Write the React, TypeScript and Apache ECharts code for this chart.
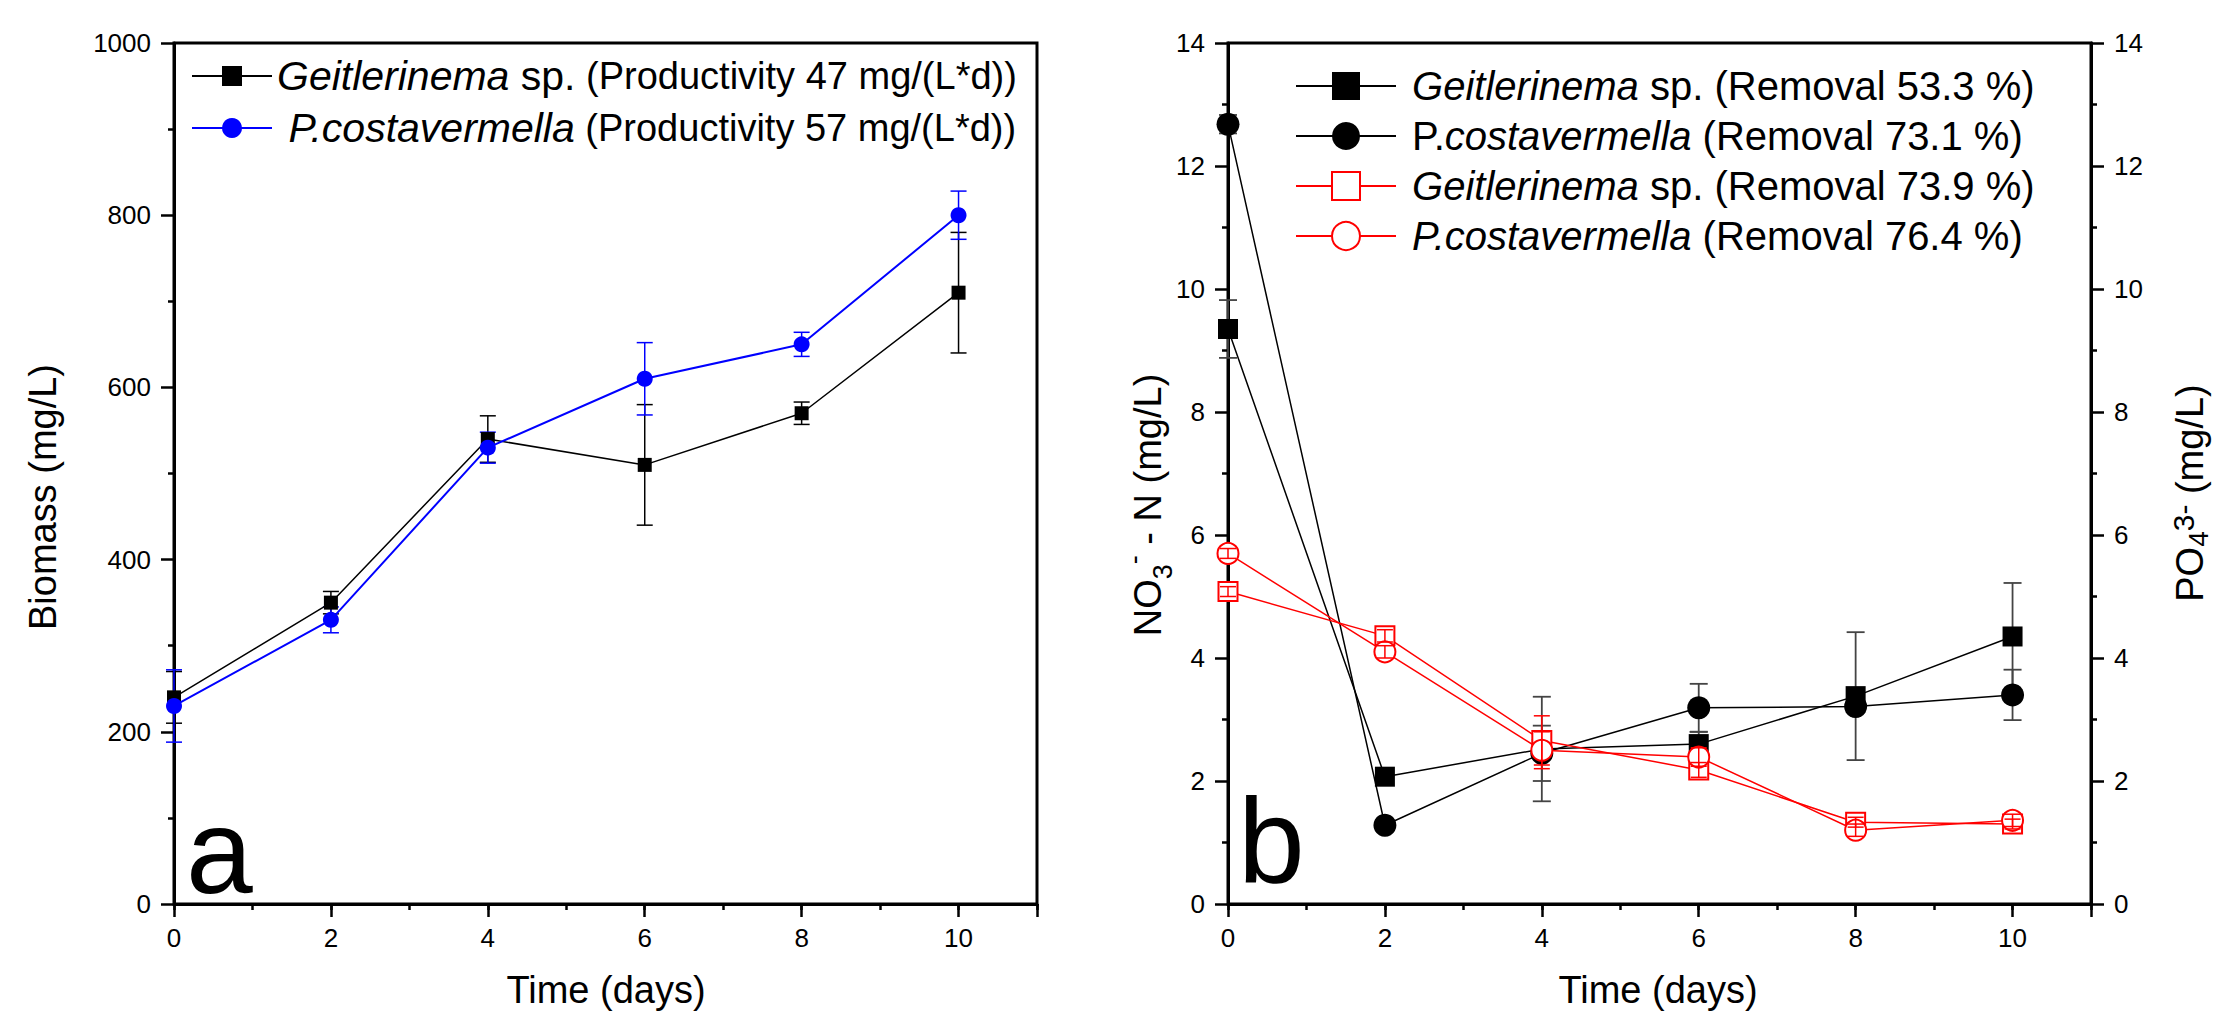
import React, { useEffect, useRef } from "react";
import * as echarts from "echarts";

// ---------- data ----------
const days = [0, 2, 4, 6, 8, 10];
const xTickLabels = ["0", "2", "4", "6", "8", "10"];

const biomassGeit = [240, 350, 540, 510, 570, 710];
const biomassGeitErr = [30, 13, 27, 70, 13, 70];
const biomassPcos = [230, 330, 530, 610, 650, 800];
const biomassPcosErr = [42, 15, 18, 42, 14, 28];

const no3Geit = [9.35, 2.07, 2.52, 2.6, 3.38, 4.35];
const no3GeitErr = [0.47, 0.08, 0.85, 0.2, 1.04, 0.87];
const no3Pcos = [12.68, 1.28, 2.45, 3.19, 3.21, 3.4];
const no3PcosErr = [0.15, 0.08, 0.45, 0.39, 0.1, 0.41];

const po4Geit = [5.08, 4.36, 2.66, 2.18, 1.33, 1.3];
const po4GeitErr = [0.08, 0.1, 0.4, 0.12, 0.08, 0.08];
const po4Pcos = [5.7, 4.1, 2.5, 2.39, 1.2, 1.36];
const po4PcosErr = [0.08, 0.1, 0.3, 0.15, 0.1, 0.1];

const legendA: Record<string, string> = {
  a1: "{gi|Geitlerinema}{g| sp.}{p| (Productivity 47 mg/(L*d))}",
  a2: "{gi| P.costavermella}{p| (Productivity 57 mg/(L*d))}",
};
const legendB: Record<string, string> = {
  b1: "{n| }{i|Geitlerinema}{n| sp. (Removal 53.3 %)}",
  b2: "{n| P.}{i|costavermella}{n| (Removal 73.1 %)}",
  b3: "{n| }{i|Geitlerinema}{n| sp. (Removal 73.9 %)}",
  b4: "{n| }{i|P.costavermella}{n| (Removal 76.4 %)}",
};

const FONT = '"Liberation Sans", Arial, Helvetica, sans-serif';

const pts = (vals: number[]) => days.map((d, i) => [d, vals[i]]);
const errs = (vals: number[], e: number[]) =>
  days.map((d, i) => [d, vals[i] - e[i], vals[i] + e[i]]);

function errRender(capW: number, color: string, width: number) {
  return (params: any, api: any) => {
    const x = api.value(0);
    const lo = api.value(1);
    const hi = api.value(2);
    const p1 = api.coord([x, hi]);
    const p2 = api.coord([x, lo]);
    const st = { stroke: color, lineWidth: width };
    return {
      type: "group",
      children: [
        { type: "line", shape: { x1: p1[0], y1: p1[1], x2: p2[0], y2: p2[1] }, style: st },
        { type: "line", shape: { x1: p1[0] - capW / 2, y1: p1[1], x2: p1[0] + capW / 2, y2: p1[1] }, style: st },
        { type: "line", shape: { x1: p2[0] - capW / 2, y1: p2[1], x2: p2[0] + capW / 2, y2: p2[1] }, style: st },
      ],
    };
  };
}

const GRID_TOP = 43;
const GRID_H = 861;
const GRID_W = 863;

function majorX(gridIndex: number) {
  return {
    type: "value",
    gridIndex,
    position: "bottom",
    min: 0,
    max: 11,
    interval: 2,
    axisLine: { show: true, lineStyle: { color: "#000", width: 3 } },
    axisTick: { show: true, inside: false, length: 13, lineStyle: { color: "#000", width: 2.5 } },
    axisLabel: {
      show: true,
      margin: 21,
      fontSize: 26,
      color: "#000",
      fontFamily: FONT,
      formatter: (v: number) => {
        const i = days.indexOf(v);
        return i >= 0 ? xTickLabels[i] : "";
      },
    },
    splitLine: { show: false },
  };
}
function minorX(gridIndex: number) {
  return {
    type: "value",
    gridIndex,
    position: "bottom",
    min: 0,
    max: 11,
    interval: 1,
    axisLine: { show: false },
    axisTick: { show: true, inside: false, length: 6, lineStyle: { color: "#000", width: 2.5 } },
    axisLabel: { show: false },
    splitLine: { show: false },
  };
}
function yAx(gridIndex: number, max: number, interval: number, position: string) {
  return {
    type: "value",
    gridIndex,
    position,
    min: 0,
    max,
    interval,
    axisLine: { show: true, onZero: false, lineStyle: { color: "#000", width: 3 } },
    axisTick: { show: true, inside: false, length: 13, lineStyle: { color: "#000", width: 2.5 } },
    minorTick: { show: true, splitNumber: 2, length: 6, lineStyle: { color: "#000", width: 2.5 } },
    axisLabel: {
      show: true,
      margin: 23,
      fontSize: 26,
      color: "#000",
      fontFamily: FONT,
      formatter: (v: number) => String(v),
    },
    splitLine: { show: false },
    minorSplitLine: { show: false },
  };
}

export default function App() {
  const ref = useRef<HTMLDivElement>(null);
  useEffect(() => {
    if (!ref.current) return;
    const chart = echarts.init(ref.current, null, { renderer: "svg" });
    const richA = {
      gi: { fontSize: 41, fontStyle: "italic", fontFamily: FONT, color: "#000", lineHeight: 44 },
      g: { fontSize: 41, fontFamily: FONT, color: "#000", lineHeight: 44 },
      p: { fontSize: 38, fontFamily: FONT, color: "#000", lineHeight: 44 },
    };
    const richB = {
      i: { fontSize: 40, fontStyle: "italic", fontFamily: FONT, color: "#000", lineHeight: 40 },
      n: { fontSize: 40, fontFamily: FONT, color: "#000", lineHeight: 40 },
    };
    const richNO = {
      m: { fontSize: 38, fontFamily: FONT, color: "#000", lineHeight: 56 },
      sub: { fontSize: 27, fontFamily: FONT, color: "#000", lineHeight: 27, verticalAlign: "bottom" },
      sup: { fontSize: 27, fontFamily: FONT, color: "#000", lineHeight: 27, verticalAlign: "top" },
    };
    const richPO = {
      m: { fontSize: 38, fontFamily: FONT, color: "#ff0000", lineHeight: 44 },
      sub: { fontSize: 28, fontFamily: FONT, color: "#ff0000", lineHeight: 20, verticalAlign: "bottom" },
      sup: { fontSize: 30, fontFamily: FONT, color: "#ff0000", lineHeight: 22, verticalAlign: "top" },
    };

    const option: any = {
      animation: false,
      backgroundColor: "#fff",
      textStyle: { fontFamily: FONT },
      grid: [
        { left: 174, top: GRID_TOP, width: GRID_W, height: GRID_H, show: true, borderColor: "#000", borderWidth: 3, containLabel: false },
        { left: 1228, top: GRID_TOP, width: GRID_W, height: GRID_H, show: true, borderColor: "#000", borderWidth: 3, containLabel: false },
      ],
      xAxis: [majorX(0), minorX(0), majorX(1), minorX(1)],
      yAxis: [yAx(0, 1000, 200, "left"), yAx(1, 14, 2, "left"), yAx(1, 14, 2, "right")],
      legend: [
        {
          data: ["a1", "a2"],
          orient: "vertical",
          left: 191,
          top: 54,
          padding: 0,
          itemWidth: 80,
          itemHeight: 25,
          itemGap: 8,
          selectedMode: false,
          formatter: (n: string) => legendA[n],
          textStyle: { fontSize: 38, lineHeight: 44, color: "#000", fontFamily: FONT, rich: richA },
        },
        {
          data: ["b1", "b2", "b3", "b4"],
          orient: "vertical",
          left: 1295,
          top: 66,
          padding: 0,
          itemWidth: 100,
          itemHeight: 35,
          itemGap: 10,
          selectedMode: false,
          formatter: (n: string) => legendB[n],
          textStyle: { fontSize: 40, lineHeight: 40, color: "#000", fontFamily: FONT, rich: richB },
        },
      ],
      graphic: [
        { type: "text", x: 186, y: 851, style: { text: "a", fontSize: 120, fontFamily: FONT, fill: "#000", align: "left", verticalAlign: "middle" } },
        { type: "text", x: 1238, y: 840, style: { text: "b", fontSize: 120, fontFamily: FONT, fill: "#000", align: "left", verticalAlign: "middle" } },
        { type: "text", x: 43, y: 497, rotation: Math.PI / 2, style: { text: "Biomass (mg/L)", fontSize: 38, fontFamily: FONT, fill: "#000", align: "center", verticalAlign: "middle" } },
        { type: "text", x: 606, y: 990, style: { text: "Time (days)", fontSize: 38, fontFamily: FONT, fill: "#000", align: "center", verticalAlign: "middle" } },
        { type: "text", x: 1658, y: 990, style: { text: "Time (days)", fontSize: 38, fontFamily: FONT, fill: "#000", align: "center", verticalAlign: "middle" } },
        { type: "text", x: 1148, y: 505, rotation: Math.PI / 2, style: { text: "{m|NO}{sub|3}{sup|-}{m| - N (mg/L)}", rich: richNO, align: "center", verticalAlign: "middle" } },
        { type: "text", x: 2190, y: 493, rotation: Math.PI / 2, style: { text: "{m|PO}{sub|4}{sup|3-}{m| (mg/L)}", rich: richPO, align: "center", verticalAlign: "middle" } },
      ],
      series: [
        { type: "custom", name: "ea1", xAxisIndex: 0, yAxisIndex: 0, data: errs(biomassGeit, biomassGeitErr), encode: { x: 0, y: [1, 2] }, renderItem: errRender(16, "#000", 1.5), z: 2, silent: true },
        { type: "custom", name: "ea2", xAxisIndex: 0, yAxisIndex: 0, data: errs(biomassPcos, biomassPcosErr), encode: { x: 0, y: [1, 2] }, renderItem: errRender(16, "#0000ff", 1.5), z: 2, silent: true },
        { type: "line", name: "a1", xAxisIndex: 0, yAxisIndex: 0, data: pts(biomassGeit), symbol: "rect", symbolSize: 14, itemStyle: { color: "#000" }, lineStyle: { color: "#000", width: 1.5 }, z: 3 },
        { type: "line", name: "a2", xAxisIndex: 0, yAxisIndex: 0, data: pts(biomassPcos), symbol: "circle", symbolSize: 16, itemStyle: { color: "#0000ff" }, lineStyle: { color: "#0000ff", width: 2 }, z: 4 },

        { type: "custom", name: "eb1", xAxisIndex: 2, yAxisIndex: 1, data: errs(no3Geit, no3GeitErr), encode: { x: 0, y: [1, 2] }, renderItem: errRender(18, "#444", 1.8), z: 2, silent: true },
        { type: "custom", name: "eb2", xAxisIndex: 2, yAxisIndex: 1, data: errs(no3Pcos, no3PcosErr), encode: { x: 0, y: [1, 2] }, renderItem: errRender(18, "#444", 1.8), z: 2, silent: true },
        { type: "line", name: "b1", xAxisIndex: 2, yAxisIndex: 1, data: pts(no3Geit), symbol: "rect", symbolSize: 20, itemStyle: { color: "#000" }, lineStyle: { color: "#000", width: 1.5 }, z: 3 },
        { type: "line", name: "b2", xAxisIndex: 2, yAxisIndex: 1, data: pts(no3Pcos), symbol: "circle", symbolSize: 23, itemStyle: { color: "#000" }, lineStyle: { color: "#000", width: 1.5 }, z: 3 },
        { type: "line", name: "b3", xAxisIndex: 2, yAxisIndex: 2, data: pts(po4Geit), symbol: "rect", symbolSize: 19, itemStyle: { color: "#fff", borderColor: "#ff0000", borderWidth: 2 }, lineStyle: { color: "#ff0000", width: 1.5 }, z: 4 },
        { type: "line", name: "b4", xAxisIndex: 2, yAxisIndex: 2, data: pts(po4Pcos), symbol: "circle", symbolSize: 21, itemStyle: { color: "#fff", borderColor: "#ff0000", borderWidth: 2 }, lineStyle: { color: "#ff0000", width: 1.5 }, z: 4 },
        { type: "custom", name: "eb3", xAxisIndex: 2, yAxisIndex: 2, data: errs(po4Geit, po4GeitErr), encode: { x: 0, y: [1, 2] }, renderItem: errRender(16, "#ff0000", 1.5), z: 5, silent: true },
        { type: "custom", name: "eb4", xAxisIndex: 2, yAxisIndex: 2, data: errs(po4Pcos, po4PcosErr), encode: { x: 0, y: [1, 2] }, renderItem: errRender(16, "#ff0000", 1.5), z: 5, silent: true },
      ],
    };
    chart.setOption(option);
    return () => chart.dispose();
  }, []);
  return (
    <div
      ref={ref}
      style={{ position: "absolute", left: 0, top: 0, width: 2215, height: 1012, background: "#fff" }}
    />
  );
}
